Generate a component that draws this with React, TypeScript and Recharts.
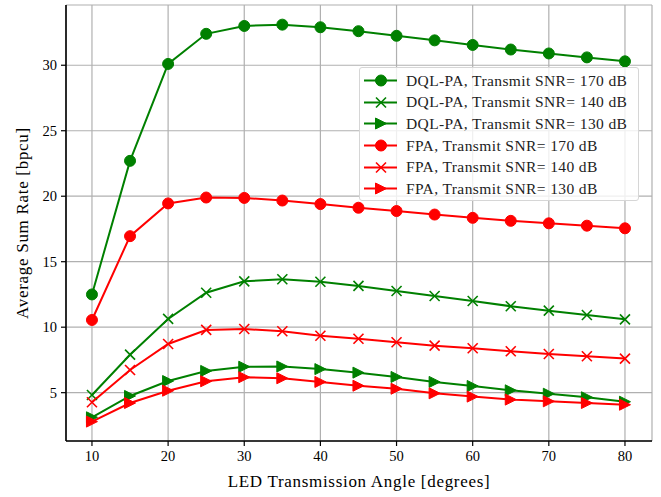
import React from 'react';
import { LineChart, Line, XAxis, YAxis, CartesianGrid } from 'recharts';

// LED transmission angle (degrees)
const angles = [10, 15, 20, 25, 30, 35, 40, 45, 50, 55, 60, 65, 70, 75, 80];

// Average sum rate [bpcu] per scheme / transmit SNR
const dql170 = [12.5, 22.7, 30.1, 32.4, 33.0, 33.1, 32.9, 32.6, 32.25, 31.9, 31.55, 31.2, 30.9, 30.6, 30.3];
const dql140 = [4.82, 7.9, 10.63, 12.63, 13.5, 13.66, 13.47, 13.15, 12.76, 12.38, 12.0, 11.6, 11.26, 10.93, 10.6];
const dql130 = [3.12, 4.75, 5.89, 6.66, 6.98, 7.0, 6.8, 6.53, 6.2, 5.82, 5.51, 5.18, 4.92, 4.65, 4.31];
const fpa170 = [10.55, 16.95, 19.45, 19.9, 19.87, 19.67, 19.4, 19.12, 18.87, 18.6, 18.35, 18.12, 17.93, 17.75, 17.55];
const fpa140 = [4.27, 6.73, 8.72, 9.79, 9.86, 9.69, 9.35, 9.12, 8.85, 8.59, 8.39, 8.16, 7.95, 7.78, 7.6];
const fpa130 = [2.79, 4.21, 5.15, 5.87, 6.18, 6.1, 5.82, 5.53, 5.3, 4.95, 4.7, 4.47, 4.34, 4.21, 4.08];

const xTicks = [10, 20, 30, 40, 50, 60, 70, 80];
const yTicks = [5, 10, 15, 20, 25, 30];

const GREEN = '#008000';
const RED = '#ff0000';
const FONT = 'Liberation Serif, serif';

type MarkerKind = 'circle' | 'x' | 'tri';

const series: { key: string; name: string; color: string; marker: MarkerKind; values: number[] }[] = [
  { key: 'dql170', name: 'DQL-PA, Transmit SNR= 170 dB', color: GREEN, marker: 'circle', values: dql170 },
  { key: 'dql140', name: 'DQL-PA, Transmit SNR= 140 dB', color: GREEN, marker: 'x', values: dql140 },
  { key: 'dql130', name: 'DQL-PA, Transmit SNR= 130 dB', color: GREEN, marker: 'tri', values: dql130 },
  { key: 'fpa170', name: 'FPA, Transmit SNR= 170 dB', color: RED, marker: 'circle', values: fpa170 },
  { key: 'fpa140', name: 'FPA, Transmit SNR= 140 dB', color: RED, marker: 'x', values: fpa140 },
  { key: 'fpa130', name: 'FPA, Transmit SNR= 130 dB', color: RED, marker: 'tri', values: fpa130 },
];

const data = angles.map((angle, i) => {
  const row: any = { angle };
  series.forEach(s => { row[s.key] = s.values[i]; });
  return row;
});

// matplotlib-like marker glyphs
function Marker({ cx, cy, kind, color }: { cx: number; cy: number; kind: MarkerKind; color: string }) {
  const r = 5.5;
  if (kind === 'circle') return <circle cx={cx} cy={cy} r={r} fill={color} stroke={color} />;
  if (kind === 'x') {
    const h = 5;
    return (
      <g stroke={color} strokeWidth={1.6}>
        <line x1={cx - h} y1={cy - h} x2={cx + h} y2={cy + h} />
        <line x1={cx - h} y1={cy + h} x2={cx + h} y2={cy - h} />
      </g>
    );
  }
  return (
    <polygon
      points={`${cx + r},${cy} ${cx - r},${cy - r} ${cx - r},${cy + r}`}
      fill={color}
      stroke={color}
      strokeLinejoin="miter"
    />
  );
}

const tickStyle = { fontSize: 14.5, fill: '#000', fontFamily: FONT };

export default function App() {
  return (
    <div style={{ position: 'absolute', left: 0, top: 0, width: 661, height: 497, background: '#fff' }}>
      <LineChart width={661} height={497} data={data} margin={{ top: 5, right: 9, bottom: 0, left: 0 }}>
        <CartesianGrid stroke="#b0b0b0" strokeWidth={1.2} />

        <XAxis
          dataKey="angle"
          type="number"
          domain={[6.59, 83.55]}
          ticks={xTicks}
          allowDataOverflow
          height={56}
          tickSize={5}
          tickMargin={5}
          axisLine={{ stroke: '#000', strokeWidth: 1.6 }}
          tickLine={{ stroke: '#000', strokeWidth: 1.2 }}
          tick={tickStyle}
          label={{
            content: ({ viewBox }: any) => (
              <text
                x={viewBox.x + viewBox.width / 2}
                y={487}
                textAnchor="middle"
                fontSize={17}
                letterSpacing={0.7}
                fontFamily={FONT}
                fill="#000"
              >
                LED Transmission Angle [degrees]
              </text>
            ),
          }}
        />
        <YAxis
          type="number"
          domain={[1.31, 34.6]}
          ticks={yTicks}
          allowDataOverflow
          width={66}
          tickSize={5}
          tickMargin={4}
          axisLine={{ stroke: '#000', strokeWidth: 1.6 }}
          tickLine={{ stroke: '#000', strokeWidth: 1.2 }}
          tick={tickStyle}
          label={{
            content: ({ viewBox }: any) => {
              const cy = viewBox.y + viewBox.height / 2;
              return (
                <text
                  x={22}
                  y={cy}
                  transform={`rotate(-90, 22, ${cy})`}
                  textAnchor="middle"
                  dominantBaseline="central"
                  fontSize={17}
                  letterSpacing={0.7}
                  fontFamily={FONT}
                  fill="#000"
                >
                  Average Sum Rate [bpcu]
                </text>
              );
            },
          }}
        />
        {/* top and right frame */}
        <XAxis xAxisId="top" orientation="top" type="number" domain={[6.59, 83.55]} height={0} tick={false} tickLine={false} axisLine={{ stroke: '#000', strokeWidth: 1.6 }} />
        <YAxis yAxisId="right" orientation="right" type="number" domain={[1.31, 34.6]} width={0} tick={false} tickLine={false} axisLine={{ stroke: '#000', strokeWidth: 1.6 }} />

        {series.map(s => (
          <Line
            key={s.key}
            dataKey={s.key}
            name={s.name}
            stroke={s.color}
            strokeWidth={2}
            isAnimationActive={false}
            activeDot={false}
            dot={(p: any) => <Marker key={`${s.key}-${p.index}`} cx={p.cx} cy={p.cy} kind={s.marker} color={s.color} />}
          />
        ))}
      </LineChart>

      {/* Legend */}
      <div
        style={{
          position: 'absolute',
          left: 359,
          top: 67,
          width: 280,
          height: 134,
          boxSizing: 'border-box',
          background: 'rgba(255,255,255,0.8)',
          border: '1px solid #d6d6d6',
          borderRadius: 3,
          paddingTop: 2,
          fontFamily: FONT,
          fontSize: 15.5,
          letterSpacing: 0.4,
          color: '#222',
        }}
      >
        {series.map(s => (
          <div key={s.key} style={{ display: 'flex', alignItems: 'center', height: 21.6 }}>
            <svg width={46} height={21} style={{ flex: 'none' }}>
              <line x1={4} y1={10.5} x2={37} y2={10.5} stroke={s.color} strokeWidth={2} />
              <Marker cx={21} cy={10.5} kind={s.marker} color={s.color} />
            </svg>
            <span style={{ whiteSpace: 'nowrap' }}>{s.name}</span>
          </div>
        ))}
      </div>
    </div>
  );
}
